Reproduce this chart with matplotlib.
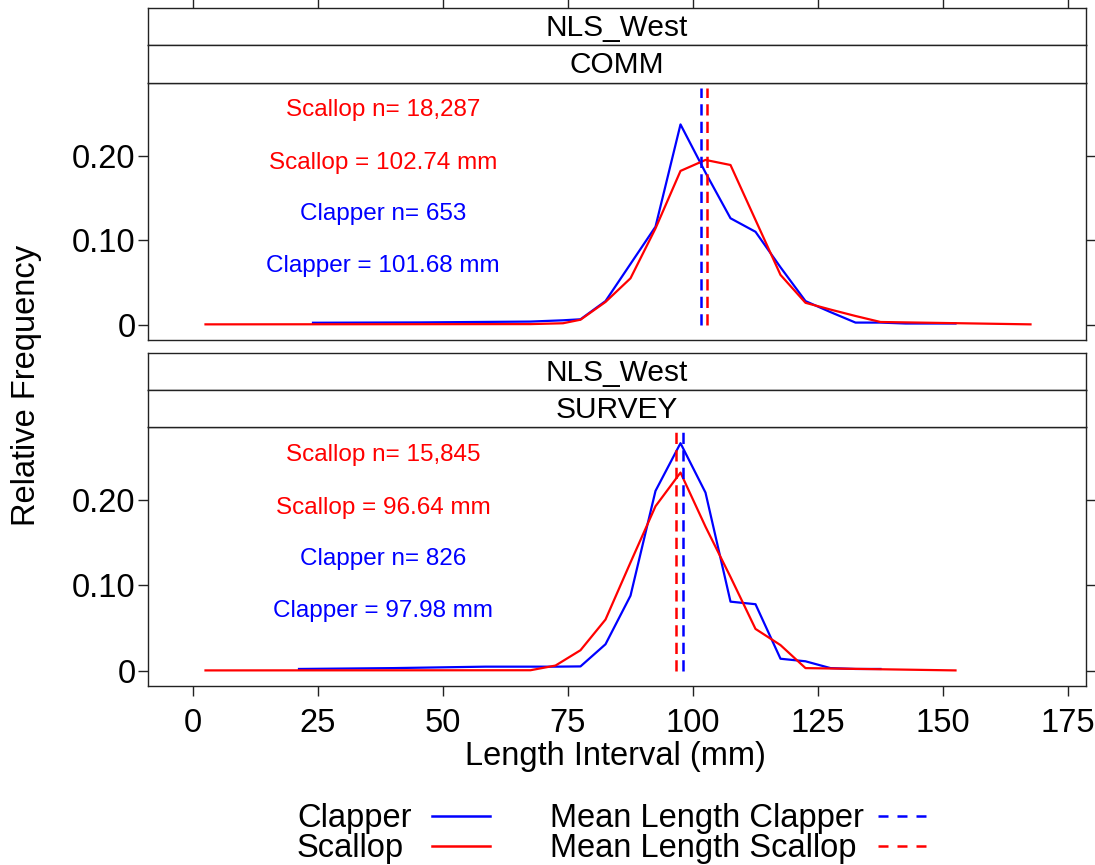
import matplotlib
matplotlib.use("Agg")
import matplotlib.pyplot as plt
from matplotlib.lines import Line2D

plt.rcParams['font.family'] = ['Liberation Sans', 'DejaVu Sans']

# ---- data ---------------------------------------------------------------
region = "NLS_West"
sources = ["COMM", "SURVEY"]

# length-frequency, commercial samples
comm_clapper_len = [24, 45.5, 67.5, 74, 77.5, 82.5, 87.5, 92.5, 97.5, 102.5,
                    107.5, 112.5, 117.5, 122.5, 127.5, 132.5, 137.5, 142.5,
                    147.5, 152.5]
comm_clapper_freq = [0.0024, 0.0028, 0.0038, 0.0053, 0.0065, 0.028, 0.072,
                     0.116, 0.237, 0.180, 0.126, 0.110, 0.068, 0.028, 0.015,
                     0.0026, 0.0026, 0.0015, 0.0015, 0.0015]
comm_scallop_len = [2.5, 67.5, 74, 77.5, 82.5, 87.5, 92.5, 97.5, 102.5, 107.5,
                    112.5, 117.5, 122.5, 127.5, 132.5, 137.5, 167.5]
comm_scallop_freq = [0.0005, 0.0008, 0.0018, 0.006, 0.027, 0.055, 0.114,
                     0.182, 0.195, 0.189, 0.124, 0.059, 0.026, 0.018, 0.0104,
                     0.0033, 0.0005]

# length-frequency, survey samples
surv_clapper_len = [21.2, 40, 58.5, 72.5, 77.5, 82.5, 87.5, 92.5, 97.5, 102.5,
                    107.5, 112.5, 117.5, 122.5, 127.5, 132.5, 137.5]
surv_clapper_freq = [0.002, 0.003, 0.0047, 0.0047, 0.005, 0.031, 0.088, 0.211,
                     0.267, 0.209, 0.081, 0.078, 0.014, 0.011, 0.003, 0.002,
                     0.002]
surv_scallop_len = [2.5, 67.5, 72.5, 77.5, 82.5, 87.5, 92.5, 97.5, 102.5,
                    107.5, 112.5, 117.5, 122.5, 152.5]
surv_scallop_freq = [0.0003, 0.0005, 0.006, 0.024, 0.060, 0.127, 0.193,
                     0.2325, 0.169, 0.110, 0.049, 0.030, 0.003, 0.0003]

mean_clapper = [101.68, 97.98]
mean_scallop = [102.74, 96.64]
n_clapper = [653, 826]
n_scallop = [18287, 15845]

x_ticks = [0, 25, 50, 75, 100, 125, 150, 175]
y_ticks = [0, 0.10, 0.20]
y_tick_labels = ["0", "0.10", "0.20"]

# ---- layout -------------------------------------------------------------
W, H = 1095, 865
fig = plt.figure(figsize=(W / 100, H / 100), dpi=100)

BLUE = "#0000FF"
RED = "#FF0000"
EDGE = "#222222"
XLIM = (-9.0, 178.6)
YLIM = (-0.018, 0.286)
FS = 23.5


def px_rect(left, top, right, bottom):
    return [left / W, 1 - bottom / H, (right - left) / W, (bottom - top) / H]


panels = [
    dict(plot=(148, 83, 1086, 340), strips=[(8, 45), (45, 83)],
         clen=comm_clapper_len, cfreq=comm_clapper_freq,
         slen=comm_scallop_len, sfreq=comm_scallop_freq),
    dict(plot=(148, 427, 1086, 686), strips=[(353, 390), (390, 427)],
         clen=surv_clapper_len, cfreq=surv_clapper_freq,
         slen=surv_scallop_len, sfreq=surv_scallop_freq),
]

for i, p in enumerate(panels):
    l, t, r, b = p["plot"]
    ax = fig.add_axes(px_rect(l, t, r, b))
    ax.plot(p["clen"], p["cfreq"], color=BLUE, lw=1.6, zorder=3)
    ax.plot(p["slen"], p["sfreq"], color=RED, lw=1.6, zorder=4)
    ax.vlines(mean_clapper[i], 0, 0.28, color=BLUE, lw=1.8,
              linestyles=(0, (4.5, 2.5)), zorder=5)
    ax.vlines(mean_scallop[i], 0, 0.28, color=RED, lw=1.8,
              linestyles=(0, (4.5, 2.5)), zorder=5)

    notes = [
        (f"Scallop n= {n_scallop[i]:,}", RED, 0.2535),
        (f"Scallop = {mean_scallop[i]:.2f} mm", RED, 0.191),
        (f"Clapper n= {n_clapper[i]:,}", BLUE, 0.131),
        (f"Clapper = {mean_clapper[i]:.2f} mm", BLUE, 0.070),
    ]
    for txt, col, yy in notes:
        ax.text(38, yy, txt, color=col, fontsize=17.5, ha="center",
                va="center")

    ax.set_xlim(*XLIM)
    ax.set_ylim(*YLIM)
    ax.set_yticks(y_ticks)
    ax.set_yticklabels(y_tick_labels)
    ax.tick_params(axis="y", which="both", direction="out", length=7,
                   width=1.0, color=EDGE, labelsize=FS, pad=2,
                   left=True, right=True, labelleft=True, labelright=False)
    ax.set_xticks(x_ticks)
    if i == 1:
        ax.tick_params(axis="x", direction="out", length=7, width=1.0,
                       color=EDGE, labelsize=FS, pad=9, bottom=True,
                       top=False, labelbottom=True)
    else:
        ax.tick_params(axis="x", bottom=False, top=False, labelbottom=False)
    for s in ax.spines.values():
        s.set_color(EDGE)
        s.set_linewidth(1.0)

    # strip headers
    for j, (st, sb) in enumerate(p["strips"]):
        sax = fig.add_axes(px_rect(l, st, r, sb))
        sax.set_xlim(*XLIM)
        sax.set_ylim(0, 1)
        sax.set_yticks([])
        label = region if j == 0 else sources[i]
        sax.text(0.5, 0.47, label, transform=sax.transAxes, ha="center",
                 va="center", fontsize=21.5)
        for s in sax.spines.values():
            s.set_color(EDGE)
            s.set_linewidth(1.0)
        if i == 0 and j == 0:
            sax.set_xticks(x_ticks)
            sax.tick_params(axis="x", direction="out", length=8, width=1.0,
                            color=EDGE, top=True, bottom=False,
                            labeltop=False, labelbottom=False)
        else:
            sax.set_xticks([])

# axis titles
fig.text(615 / W, 1 - 757 / H, "Length Interval (mm)", ha="center",
         va="center", fontsize=FS)
fig.text(27 / W, 1 - 385 / H, "Relative Frequency", ha="center",
         va="center", rotation=90, fontsize=FS)

# key below the panels
key_rows = [
    (818, "Clapper", BLUE, "-", 297, 432, 490),
    (848, "Scallop", RED, "-", 297, 432, 490),
    (818, "Mean Length Clapper", BLUE, (0, (4, 3.6)), 550, 878, 932),
    (848, "Mean Length Scallop", RED, (0, (4, 3.6)), 550, 878, 932),
]
for y, lab, col, ls, tx, x0, x1 in key_rows:
    fig.text(tx / W, 1 - y / H, lab, ha="left", va="center", fontsize=FS)
    fig.add_artist(Line2D([x0 / W, x1 / W], [1 - (y - 2) / H, 1 - (y - 2) / H],
                          color=col, lw=1.8, linestyle=ls,
                          transform=fig.transFigure))

fig.savefig("out.png", dpi=100, facecolor="white")
